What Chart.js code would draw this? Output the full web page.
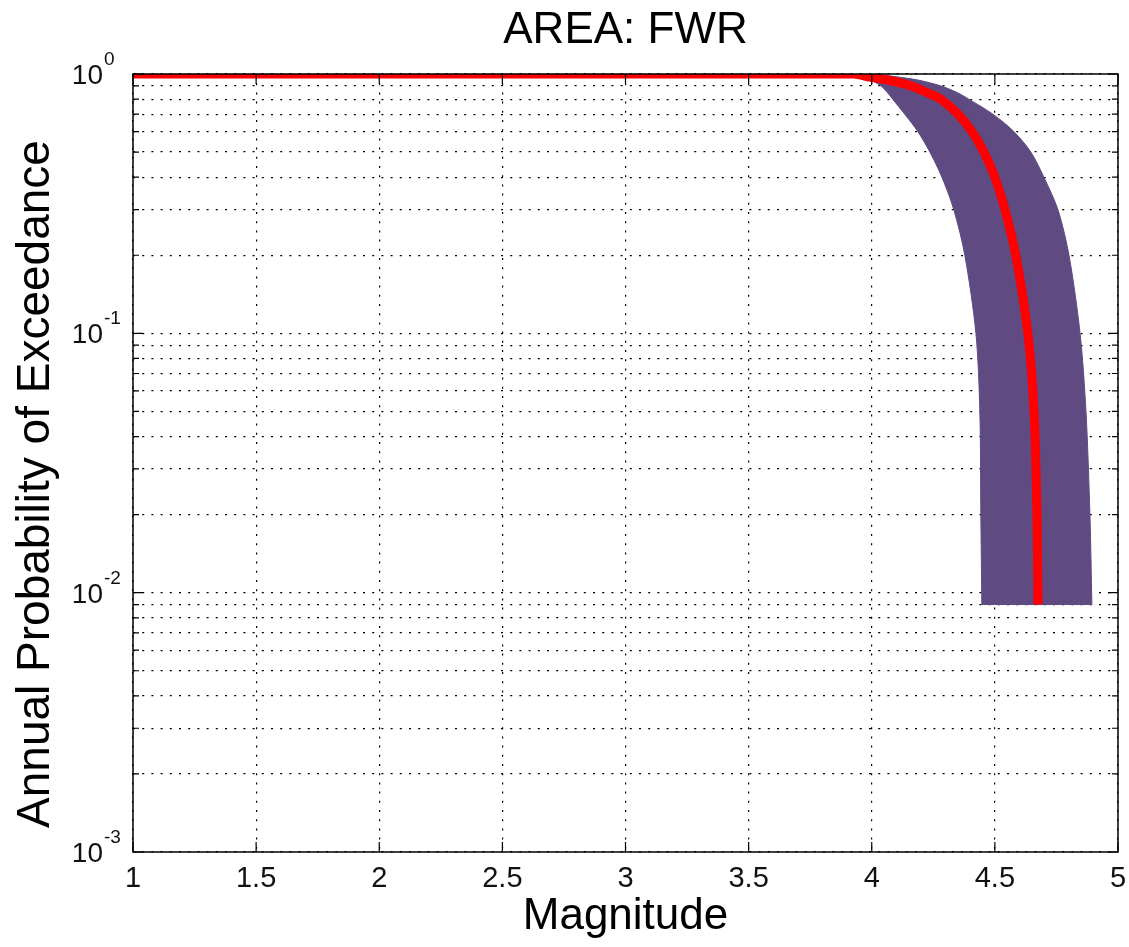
<!DOCTYPE html>
<html>
<head>
<meta charset="utf-8">
<script src="https://cdn.jsdelivr.net/npm/chart.js@4"></script>
<style>
  html, body { margin: 0; padding: 0; background: #fff; }
  canvas { display: block; }
</style>
</head>
<body>
<canvas id="chart" width="1129" height="947"></canvas>
<script>
// probability levels (y) and the magnitude where each curve crosses them
const probLevels = [1, 1, 0.976, 0.948, 0.9, 0.845, 0.8, 0.7, 0.6, 0.5, 0.4, 0.3, 0.2, 0.1, 0.05, 0.02, 0.009];
const lowerMag  = [1, 3.915, 3.963, 3.996, 4.037, 4.065, 4.085, 4.134, 4.187, 4.236, 4.285, 4.333, 4.378, 4.423, 4.439, 4.443, 4.447];
const medianMag = [1, 3.927, 3.984, 4.065, 4.159, 4.228, 4.280, 4.350, 4.407, 4.455, 4.500, 4.541, 4.585, 4.634, 4.659, 4.671, 4.675];
const upperMag  = [1, 4.000, 4.098, 4.187, 4.280, 4.350, 4.394, 4.492, 4.577, 4.646, 4.699, 4.756, 4.801, 4.846, 4.870, 4.886, 4.894];

// axes
const xTickValues = [1, 1.5, 2, 2.5, 3, 3.5, 4, 4.5, 5];
const yDecades = [0.001, 0.01, 0.1, 1];
const yExponents = ["-3", "-2", "-1", "0"];

const titleText = "AREA: FWR";
const xTitle = "Magnitude";
const yTitle = "Annual Probability of Exceedance";

const FONT = "Arial, 'Liberation Sans', sans-serif";

// minor + major log ticks
const yTickValues = [];
for (let d = 0; d < yDecades.length - 1; d++) {
  for (let k = 1; k <= 9; k++) {
    yTickValues.push(+(k * yDecades[d]).toPrecision(3));
  }
}
yTickValues.push(yDecades[yDecades.length - 1]);

// band outline: down the lower edge, back up the upper edge
// (bottom corners doubled so the spline keeps them square)
const last = probLevels.length - 1;
const bandPoints = [];
for (let i = 0; i <= last; i++) {
  bandPoints.push({ x: lowerMag[i], y: probLevels[i] });
}
bandPoints.push({ x: lowerMag[last], y: probLevels[last] });
bandPoints.push({ x: upperMag[last], y: probLevels[last] });
for (let i = last; i >= 0; i--) {
  bandPoints.push({ x: upperMag[i], y: probLevels[i] });
}
const medianPoints = medianMag.map((m, i) => ({ x: m, y: probLevels[i] }));

const matlabFrame = {
  id: "matlabFrame",
  afterDraw(chart) {
    const { ctx, chartArea: a, scales } = chart;
    const x = scales.x;
    const y = scales.y;
    ctx.save();

    // box
    ctx.strokeStyle = "#000";
    ctx.lineWidth = 1.5;
    ctx.strokeRect(a.left, a.top, a.right - a.left, a.bottom - a.top);

    // inward tick marks
    ctx.lineWidth = 1.2;
    ctx.beginPath();
    xTickValues.forEach((v) => {
      const px = x.getPixelForValue(v);
      ctx.moveTo(px, a.bottom); ctx.lineTo(px, a.bottom - 10);
      ctx.moveTo(px, a.top); ctx.lineTo(px, a.top + 10);
    });
    yTickValues.forEach((v) => {
      const py = y.getPixelForValue(v);
      const len = yDecades.includes(v) ? 10 : 6;
      ctx.moveTo(a.left, py); ctx.lineTo(a.left + len, py);
      ctx.moveTo(a.right, py); ctx.lineTo(a.right - len, py);
    });
    ctx.stroke();

    // x tick labels
    ctx.fillStyle = "#111";
    ctx.font = "29px " + FONT;
    ctx.textAlign = "center";
    ctx.textBaseline = "alphabetic";
    xTickValues.forEach((v) => {
      ctx.fillText(String(v), x.getPixelForValue(v), a.bottom + 35);
    });

    // y tick labels, 10 with superscript exponent
    yDecades.forEach((v, i) => {
      const py = y.getPixelForValue(v);
      ctx.font = "28px " + FONT;
      ctx.textAlign = "right";
      ctx.fillText("10", a.left - 30, py + 10);
      ctx.font = "19px " + FONT;
      ctx.textAlign = "left";
      ctx.fillText(yExponents[i], a.left - 29, py - 9);
    });

    // titles
    ctx.fillStyle = "#000";
    ctx.font = "44px " + FONT;
    ctx.textAlign = "center";
    ctx.fillText(titleText, (a.left + a.right) / 2, 43);
    ctx.fillText(xTitle, (a.left + a.right) / 2, 929);

    ctx.font = "46px " + FONT;
    ctx.translate(49, 484);
    ctx.rotate(-Math.PI / 2);
    ctx.fillText(yTitle, 0, 0);
    ctx.restore();
  }
};

new Chart(document.getElementById("chart"), {
  type: "scatter",
  data: {
    datasets: [
      {
        label: "range",
        data: bandPoints,
        showLine: true,
        fill: "shape",
        backgroundColor: "rgb(96, 74, 130)",
        borderColor: "rgb(96, 74, 130)",
        borderWidth: 1,
        pointRadius: 0,
        tension: 0.3,
        order: 2
      },
      {
        label: "median",
        data: medianPoints,
        showLine: true,
        fill: false,
        borderColor: "#ff0000",
        borderWidth: 9,
        borderCapStyle: "butt",
        pointRadius: 0,
        tension: 0.3,
        order: 1
      }
    ]
  },
  options: {
    responsive: false,
    animation: false,
    devicePixelRatio: 1,
    layout: { padding: { left: 133, right: 11, top: 74, bottom: 95 } },
    plugins: {
      legend: { display: false },
      title: { display: false },
      tooltip: { enabled: false }
    },
    scales: {
      x: {
        type: "linear",
        min: 1,
        max: 5,
        afterBuildTicks: (scale) => {
          scale.ticks = xTickValues.map((v) => ({ value: v }));
        },
        ticks: { display: false },
        grid: { color: "#000", lineWidth: 1.2, drawTicks: false },
        border: { display: false, dash: [2, 7.2] }
      },
      y: {
        type: "logarithmic",
        min: 0.001,
        max: 1,
        afterBuildTicks: (scale) => {
          scale.ticks = yTickValues.map((v) => ({ value: v }));
        },
        ticks: { display: false },
        grid: { color: "#000", lineWidth: 1.2, drawTicks: false },
        border: { display: false, dash: [2, 7.2] }
      }
    }
  },
  plugins: [matlabFrame]
});
</script>
</body>
</html>
